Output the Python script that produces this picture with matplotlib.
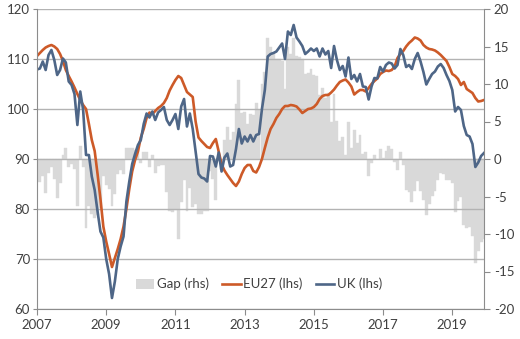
import numpy as np
import matplotlib
matplotlib.use("Agg")
import matplotlib.pyplot as plt
from matplotlib.patches import Patch
from matplotlib.lines import Line2D

# Monthly data, Jan 2007 .. Dec 2019
start_year = 2007
eu27 = [
    110.6, 111.2, 111.8, 112.3, 112.6, 112.8, 112.5, 112.0, 111.0, 109.6, 107.8, 106.6,
    105.5, 104.3, 103.0, 101.8, 100.8, 100.0, 97.0, 93.8, 91.6, 87.0, 82.0, 76.5,
    73.5, 71.0, 68.4, 70.2, 72.0, 74.0, 76.5, 80.0, 84.0, 87.5, 89.8, 91.5,
    94.3, 96.0, 98.2, 99.3, 99.0, 99.6, 100.2, 100.6, 101.2, 102.2, 103.7, 104.8,
    105.8, 106.6, 106.2, 104.8, 103.4, 102.9, 102.4, 97.5, 94.3, 93.6, 93.0, 92.4,
    92.2, 93.2, 94.0, 91.5, 89.0, 87.7, 86.8, 86.0, 85.2, 84.6, 85.5, 87.0,
    88.2, 88.8, 88.8, 87.6, 87.3, 88.4, 90.0, 92.2, 94.3, 96.0, 97.0, 98.2,
    99.0, 100.0, 100.6, 100.6, 100.8, 100.7, 100.5, 99.9, 99.2, 99.6, 100.0, 100.1,
    100.4, 101.0, 102.0, 102.6, 102.8, 102.8, 103.3, 103.9, 104.7, 105.4, 105.7, 105.9,
    105.3, 104.5, 102.9, 103.4, 103.8, 103.8, 103.5, 104.2, 105.0, 105.6, 106.1, 107.0,
    107.4, 107.7, 107.6, 107.8, 108.5, 110.2, 111.0, 111.6, 112.5, 113.2, 113.7, 114.3,
    114.1, 113.7, 112.8, 112.3, 112.0, 111.9, 111.7, 111.3, 110.8, 110.2, 109.6, 108.4,
    107.0, 106.6, 106.0, 104.8, 105.4, 104.0, 103.6, 103.2, 102.2, 101.5, 101.6, 101.8,
]
uk = [
    107.9, 108.1, 109.5, 107.8, 110.8, 111.8, 109.8, 106.8, 107.8, 110.1, 109.3, 105.5,
    104.8, 103.0, 96.8, 103.5, 99.8, 90.8, 90.8, 86.5, 83.8, 79.5, 75.5, 74.3,
    70.0, 67.0, 62.2, 65.5, 70.0, 72.5, 74.5, 81.5, 85.5, 89.0, 91.0, 92.8,
    93.8, 97.0, 99.1, 98.3, 99.5, 97.8, 99.3, 99.8, 100.4, 97.8, 96.8, 97.8,
    99.0, 96.0, 100.5, 102.0, 96.5, 99.1, 96.0, 91.5, 87.0, 86.3, 86.1, 85.5,
    90.6, 90.5, 88.5, 91.3, 87.5, 90.3, 91.1, 88.5, 88.8, 92.0, 96.0, 93.1,
    94.5, 93.5, 94.8, 93.5, 94.8, 95.0, 100.0, 103.8, 110.5, 111.0, 111.2, 111.5,
    112.3, 113.1, 110.0, 115.5, 114.8, 116.8, 114.3, 113.5, 112.6, 111.0, 111.5, 112.1,
    111.6, 112.1, 110.5, 112.1, 110.9, 111.6, 108.2, 112.6, 109.8, 107.8, 108.6, 106.5,
    110.3, 106.0, 106.8, 105.5, 107.0, 104.5, 104.4, 101.9, 104.5, 106.2, 106.1, 108.4,
    107.5, 108.8, 109.3, 109.1, 108.1, 108.8, 112.0, 110.8, 108.4, 108.8, 108.0, 110.0,
    111.2, 109.5, 107.4, 104.9, 106.0, 107.0, 107.5, 108.5, 109.0, 108.2, 106.8, 105.6,
    103.8, 99.5, 100.4, 99.8, 96.6, 94.8, 94.5, 93.0, 88.4, 89.3, 90.6, 91.2,
]
gap = [
    -2.7, -3.1, -2.3, -4.5, -1.8, -1.0, -2.7, -5.2, -3.2, 0.5, 1.5, -1.1,
    -0.7, -1.3, -6.2, 1.7, -1.0, -9.2, -6.2, -7.3, -7.8, -7.5, -6.5, -2.2,
    -3.5, -4.0, -6.2, -4.7, -2.0, -1.5, -2.0, 1.5, 1.5, 1.5, 1.2, 1.3,
    -0.5, 1.0, 0.9, -1.0, 0.5, -1.8, -0.9, -0.8, -0.8, -4.4, -6.9, -7.0,
    -6.8, -10.6, -5.7, -2.8, -6.9, -3.8, -6.4, -6.0, -7.3, -7.3, -6.9, -6.9,
    -1.6, -2.7, -5.5, -0.2, -1.5, 2.6, 4.3, 2.5, 3.6, 7.4, 10.5, 6.1,
    6.3, 4.7, 6.0, 5.9, 7.5, 6.6, 10.0, 11.6, 16.2, 15.0, 14.2, 13.3,
    13.3, 13.1, 9.4, 14.9, 14.0, 16.1, 13.8, 13.6, 13.4, 11.4, 11.5, 12.0,
    11.2, 11.1, 8.5, 9.5, 8.1, 8.8, 4.9, 8.7, 5.1, 2.4, 2.9, 0.6,
    5.0, 1.5, 3.9, 2.1, 3.2, 0.7, 0.9, -2.3, -0.5, 0.6, 0.0, 1.4,
    0.1, 1.1, 1.7, 1.3, -0.4, -1.4, 1.0, -0.8, -4.1, -4.4, -5.7, -4.3,
    -2.9, -4.2, -5.4, -7.4, -6.0, -4.9, -4.2, -2.8, -1.8, -2.0, -2.8, -2.8,
    -3.2, -7.1, -5.6, -5.0, -8.8, -9.2, -9.1, -10.2, -13.8, -12.2, -11.0, -10.6,
]
year_ticks = [2007, 2009, 2011, 2013, 2015, 2017, 2019]
left_ticks = [60, 70, 80, 90, 100, 110, 120]
right_ticks = [-20, -15, -10, -5, 0, 5, 10, 15, 20]
labels = ["Gap (rhs)", "EU27 (lhs)", "UK (lhs)"]

plt.rcParams['font.family'] = ['Lato', 'DejaVu Sans']
FS = 9.5
TXT = '#404040'
EU_C = '#CD5A28'
UK_C = '#4E6687'
BAR_C = '#D9D9D9'
GRID_C = '#B3B3B3'
AX_C = '#8C8C8C'

t = start_year + np.arange(len(eu27)) / 12.0

fig = plt.figure(figsize=(5.2, 3.39), dpi=100)
ax = fig.add_axes([37/520, 1-309/339, (484-37)/520, 300/339])
ax2 = ax.twinx()

ax2.bar(t, gap, width=1.0/12, color=BAR_C, edgecolor=BAR_C, linewidth=0.3, align='center')
ax2.set_ylim(-20, 20)
ax2.set_yticks(right_ticks)
ax2.set_yticklabels([str(v) for v in right_ticks])

ax.plot(t, eu27, color=EU_C, lw=1.9, solid_joinstyle='round')
ax.plot(t, uk, color=UK_C, lw=1.9, solid_joinstyle='round')
ax.set_ylim(60, 120)
ax.set_yticks(left_ticks)
ax.set_xlim(t[0], t[-1])
ax.set_xticks(year_ticks)
ax.set_xticklabels([str(y) for y in year_ticks])

ax.set_zorder(ax2.get_zorder() + 1)
ax.patch.set_visible(False)

ax.grid(axis='y', color=GRID_C, lw=1.0)
ax.set_axisbelow(True)

for a in (ax, ax2):
    for s in a.spines.values():
        s.set_visible(False)
ax.spines['left'].set_visible(True)
ax.spines['left'].set_color(AX_C)
ax.spines['bottom'].set_visible(True)
ax.spines['bottom'].set_color(AX_C)
ax2.spines['right'].set_visible(True)
ax2.spines['right'].set_color(AX_C)

ax.tick_params(axis='y', which='both', length=3, color=AX_C, labelsize=FS, labelcolor=TXT, pad=2)
ax.tick_params(axis='x', length=4, color=AX_C, labelsize=FS, labelcolor=TXT, pad=3)
ax2.tick_params(axis='y', length=4, color=AX_C, labelsize=FS, labelcolor=TXT, pad=3)

handles = [Patch(facecolor=BAR_C, edgecolor='none'),
           Line2D([0], [0], color=EU_C, lw=1.9),
           Line2D([0], [0], color=UK_C, lw=1.9)]
leg = ax.legend(handles, labels, loc='center', bbox_to_anchor=(0.497, 0.083),
                ncol=3, frameon=False, fontsize=FS, handlelength=1.4,
                handletextpad=0.2, columnspacing=1.0, handleheight=0.8)
for txt in leg.get_texts():
    txt.set_color(TXT)

fig.savefig("out.png", dpi=100)
